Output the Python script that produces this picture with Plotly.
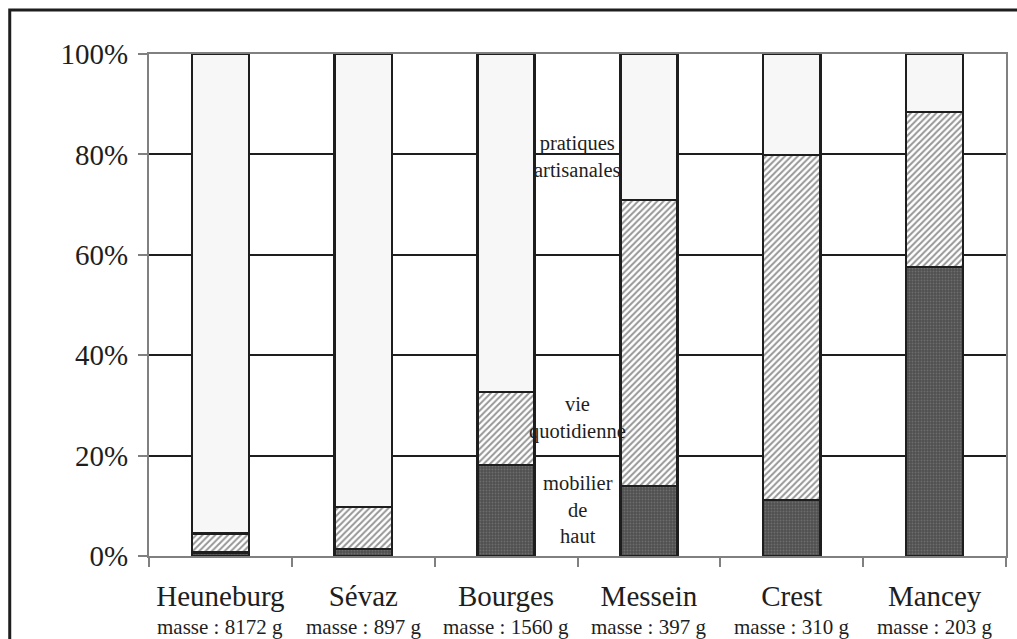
import plotly.graph_objects as go

# Sites and the total mass of each assemblage
sites = ["Heuneburg", "Sévaz", "Bourges", "Messein", "Crest", "Mancey"]
masses = ["masse : 8172 g", "masse : 897 g", "masse : 1560 g",
          "masse : 397 g", "masse : 310 g", "masse : 203 g"]

# Share of each functional category (%)
mobilier = [0.7, 1.4, 18.1, 13.9, 11.2, 57.6]
vie_quotidienne = [3.8, 8.4, 14.6, 57.0, 68.7, 30.8]
pratiques = [95.5, 90.2, 67.3, 29.1, 20.1, 11.6]

y_ticks = [0, 20, 40, 60, 80, 100]
y_labels = [f"{v}%" for v in y_ticks]

FONT = "Liberation Serif, Times New Roman, serif"
INK = "#1e1e1e"
OUTLINE = dict(color=INK, width=2.5)

fig = go.Figure()
fig.add_trace(go.Bar(
    x=sites, y=mobilier, name="mobilier de haut rang",
    marker=dict(color="#4f4f4f", line=OUTLINE,
                pattern=dict(shape=".", fgcolor="#8c8c8c", bgcolor="#4f4f4f",
                             size=3, solidity=0.3)),
))
fig.add_trace(go.Bar(
    x=sites, y=vie_quotidienne, name="vie quotidienne",
    marker=dict(color="white", line=OUTLINE,
                pattern=dict(shape="/", fgcolor="#2e2e2e", bgcolor="white",
                             size=4.5, solidity=0.45)),
))
fig.add_trace(go.Bar(
    x=sites, y=pratiques, name="pratiques artisanales",
    marker=dict(color="#f7f7f7", line=OUTLINE),
))

# Category labels written beside the Bourges bar
notes = [("pratiques<br>artisanales", 79.6), ("vie<br>quotidienne", 27.4),
         ("mobilier<br>de<br>haut", 9.2)]
for text, yv in notes:
    fig.add_annotation(x=2.5, y=yv, xref="x", yref="y", text=text,
                       showarrow=False, font=dict(family=FONT, size=20.5, color=INK),
                       xanchor="center", yanchor="middle")

# Mass line under each site name
for site, m in zip(sites, masses):
    fig.add_annotation(x=site, y=-0.141, xref="x", yref="paper", text=m,
                       showarrow=False, font=dict(family=FONT, size=21, color=INK),
                       xanchor="center", yanchor="middle")

# Outer frame
fig.add_shape(type="rect", xref="paper", yref="paper",
              x0=-0.1625, x1=1.05, y0=-0.25, y1=1.0876,
              line=dict(color=INK, width=3), fillcolor="rgba(0,0,0,0)", layer="above")

fig.update_layout(
    width=1017, height=639,
    margin=dict(l=149, r=9, t=54, b=83),
    barmode="stack", bargap=0.6,
    showlegend=False,
    plot_bgcolor="white", paper_bgcolor="white",
    font=dict(family=FONT, color=INK),
)
fig.update_xaxes(
    type="category", tickson="boundaries",
    ticks="outside", ticklen=9, tickcolor="#808080", tickwidth=2,
    showline=True, linecolor="#808080", linewidth=2, mirror=True,
    tickfont=dict(family=FONT, size=29, color=INK),
    ticklabelstandoff=13,
)
fig.update_yaxes(
    range=[0, 100], tickvals=y_ticks, ticktext=y_labels,
    ticks="outside", ticklen=9, tickcolor="#808080", tickwidth=2,
    showline=True, linecolor="#808080", linewidth=2, mirror=True,
    showgrid=True, gridcolor=INK, gridwidth=2,
    tickfont=dict(family=FONT, size=29, color=INK),
    ticklabelstandoff=4,
)

fig.write_html("out.html")
